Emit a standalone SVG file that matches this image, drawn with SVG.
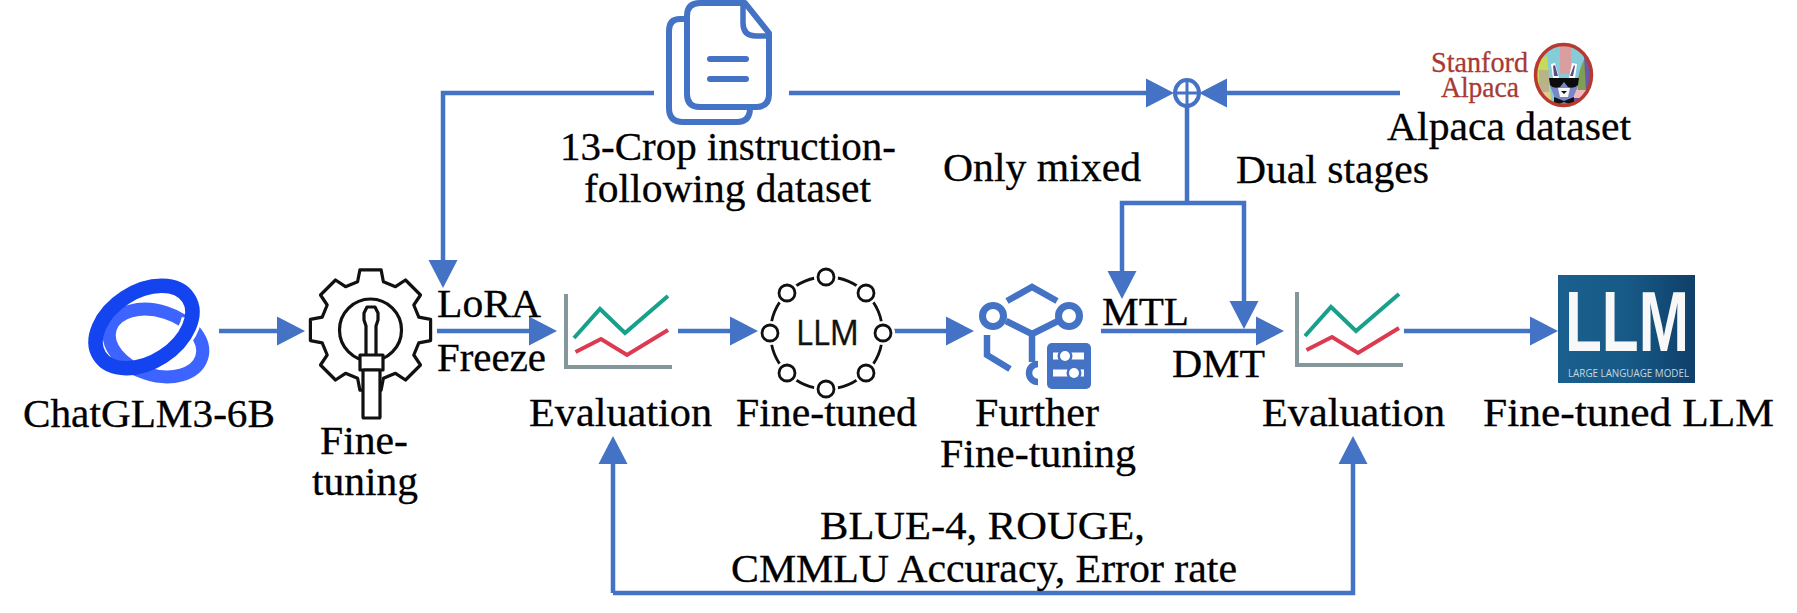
<svg xmlns="http://www.w3.org/2000/svg" width="1797" height="613" viewBox="0 0 1797 613">
<style>
.t{font-family:"Liberation Serif","Times New Roman",serif;font-size:40px;fill:#000;stroke:#000;stroke-width:.3}
.c{fill:none;stroke:#4472c4;stroke-width:4.5}
.a{marker-end:url(#ah)}
.ic{fill:none;stroke:#4472c4;stroke-linecap:round;stroke-linejoin:round}
.b{fill:none;stroke:#4472c4;stroke-width:6.500;stroke-linejoin:miter}
.k{fill:none;stroke:#111;stroke-width:3.2;stroke-linejoin:round}
.w{fill:#fff;stroke:#111;stroke-width:3.2;stroke-linejoin:round}
.n{fill:#fff;stroke:#111;stroke-width:2.8}
.ax{fill:none;stroke:#84979a;stroke-width:4}
.gr{fill:none;stroke:#17a08a;stroke-width:4}
.rd{fill:none;stroke:#dc3a50;stroke-width:4}
.s{font-family:"Liberation Serif",serif;font-size:29px;fill:#a83a34;stroke:#a83a34;stroke-width:.3}
</style>
<defs>
<marker id="ah" markerUnits="userSpaceOnUse" markerWidth="28" markerHeight="29" refX="0" refY="14.5" orient="auto" viewBox="0 0 28 29" overflow="visible"><path d="M0,0L28,14.500L0,29Z" fill="#4472c4"/></marker>
<linearGradient id="lg" x1="0" x2="1" y1="0" y2="0"><stop offset="0" stop-color="#1a5f8e"/><stop offset="0.5" stop-color="#175a87"/><stop offset="1" stop-color="#0f3f69"/></linearGradient>
<clipPath id="ac"><ellipse cx="1563.500" cy="75" rx="28" ry="30.500"/></clipPath>
<g id="chart"><path class="ax" d="M0,0V73H106"/><path class="gr" d="M8,44L34,15L59,39L102,2"/><path class="rd" d="M9.500,58L35,45L61,61L102,36"/></g>
</defs>
<g id="connectors">
<path class="c a" d="M219,331H277"/>
<path class="c a" d="M437,331H529"/>
<path class="c a" d="M678,331H730"/>
<path class="c a" d="M887,331H946"/>
<path class="c a" d="M1101,331H1256"/>
<path class="c a" d="M1404,331H1530"/>
<path class="c a" d="M654,93H443V260"/>
<path class="c a" d="M789,93H1146"/>
<path class="c a" d="M1400,93H1227"/>
<path class="c" d="M1187,107V203"/>
<path class="c a" d="M1187,203H1122V271"/>
<path class="c a" d="M1187,203H1244V301"/>
<path class="c a" d="M613,593V464"/>
<path class="c a" d="M613,593H1353V464"/>
<ellipse cx="1187" cy="93" rx="12" ry="13" fill="#fff" stroke="#4472c4" stroke-width="4"/>
<path d="M1175,93H1199M1187,80V106" fill="none" stroke="#4472c4" stroke-width="3"/>
</g>
<g id="chatglm">
<ellipse cx="156" cy="343" rx="48" ry="32" transform="rotate(18 156 343)" fill="none" stroke="#3d64ff" stroke-width="13"/>
<ellipse cx="144" cy="327" rx="53" ry="35" transform="rotate(-33 144 327)" fill="none" stroke="#fff" stroke-width="20" pathLength="360" stroke-dasharray="0 28 36 296"/>
<ellipse cx="144" cy="327" rx="53" ry="35" transform="rotate(-33 144 327)" fill="none" stroke="#1443f0" stroke-width="14.500"/>
<text class="t" x="23" y="427" textLength="252" lengthAdjust="spacingAndGlyphs">ChatGLM3-6B</text>
</g>
<g id="fine-tuning">
<path class="k" transform="translate(370.500,330)" d="M-12.900,-48.300L-10.600,-60.100L10.600,-60.100L12.900,-48.300L25,-43.300L35,-50L50,-35L43.300,-25L48.300,-12.900L60.100,-10.600L60.100,10.600L48.300,12.900L43.300,25L50,35L35,50L25,43.300L12.900,48.300L10.600,60.100L-10.600,60.100L-12.900,48.300L-25,43.300L-35,50L-50,35L-43.300,25L-48.300,12.900L-60.100,10.600L-60.100,-10.600L-48.300,-12.900L-43.300,-25L-50,-35L-35,-50L-25,-43.300Z"/>
<circle class="k" cx="370.500" cy="330" r="31"/>
<path class="w" d="M366,355V326L364,320V313L367,307H375L378,313V320L376,326V355"/>
<rect class="w" x="360" y="355" width="23" height="15"/>
<rect class="w" x="363" y="370" width="17" height="48" rx="1"/>
<text class="t" x="320" y="454" textLength="88" lengthAdjust="spacingAndGlyphs">Fine-</text>
<text class="t" x="312" y="495" textLength="106" lengthAdjust="spacingAndGlyphs">tuning</text>
</g>
<g id="edge-labels">
<text class="t" x="437" y="317" textLength="104" lengthAdjust="spacingAndGlyphs">LoRA</text>
<text class="t" x="437" y="371" textLength="109" lengthAdjust="spacingAndGlyphs">Freeze</text>
<text class="t" x="1102" y="325" textLength="87" lengthAdjust="spacingAndGlyphs">MTL</text>
<text class="t" x="1172" y="377" textLength="93" lengthAdjust="spacingAndGlyphs">DMT</text>
<text class="t" x="943" y="181" textLength="198" lengthAdjust="spacingAndGlyphs">Only mixed</text>
<text class="t" x="1236" y="183" textLength="193" lengthAdjust="spacingAndGlyphs">Dual stages</text>
<text class="t" x="820" y="539" textLength="325" lengthAdjust="spacingAndGlyphs">BLUE-4, ROUGE,</text>
<text class="t" x="731" y="582" textLength="506" lengthAdjust="spacingAndGlyphs">CMMLU Accuracy, Error rate</text>
</g>
<g id="evaluation-1">
<use href="#chart" x="566" y="294"/>
<text class="t" x="529" y="426" textLength="183" lengthAdjust="spacingAndGlyphs">Evaluation</text>
</g>
<g id="fine-tuned">
<circle cx="826.500" cy="333" r="56" fill="none" stroke="#111" stroke-width="2.800"/>
<g fill="#fff">
<circle cx="826" cy="277" r="12"/><circle cx="770" cy="333" r="12"/><circle cx="883" cy="333" r="12"/><circle cx="826" cy="389" r="12"/>
<circle cx="787" cy="293" r="12"/><circle cx="866" cy="293" r="12"/><circle cx="787" cy="373" r="12"/><circle cx="866" cy="373" r="12"/>
</g>
<circle class="n" cx="826" cy="277" r="8"/><circle class="n" cx="770" cy="333" r="8"/><circle class="n" cx="883" cy="333" r="8"/><circle class="n" cx="826" cy="389" r="8"/>
<circle class="n" cx="787" cy="293" r="8"/><circle class="n" cx="866" cy="293" r="8"/><circle class="n" cx="787" cy="373" r="8"/><circle class="n" cx="866" cy="373" r="8"/>
<text x="796" y="345" font-family="Open Sans, Liberation Sans, sans-serif" font-size="34" fill="#111" stroke="#111" stroke-width=".4" textLength="63" lengthAdjust="spacingAndGlyphs">LLM</text>
<text class="t" x="736" y="426" textLength="181" lengthAdjust="spacingAndGlyphs">Fine-tuned</text>
</g>
<g id="further-fine-tuning">
<circle class="ic" cx="993" cy="316" r="10.500" stroke-width="7"/>
<circle class="ic" cx="1069" cy="316" r="10.500" stroke-width="7"/>
<path class="b" d="M1006,321L1032,334L1058,321M1032,334V362M1007,301L1032,287L1057,301M987,335V355L1010,369"/>
<path class="b" d="M1038,364A9,9 0 1 0 1038,382"/>
<rect x="1047" y="343" width="44" height="46" rx="5" fill="#4472c4"/>
<path d="M1053,356H1084M1053,373H1084" stroke="#fff" stroke-width="7" fill="none"/>
<circle cx="1065" cy="356" r="7.500" fill="#4472c4"/><circle cx="1074" cy="373" r="7.500" fill="#4472c4"/>
<circle cx="1065" cy="356" r="5" fill="#fff"/><circle cx="1074" cy="373" r="5" fill="#fff"/>
<text class="t" x="975" y="426" textLength="124" lengthAdjust="spacingAndGlyphs">Further</text>
<text class="t" x="940" y="467" textLength="196" lengthAdjust="spacingAndGlyphs">Fine-tuning</text>
</g>
<g id="evaluation-2">
<use href="#chart" x="1297" y="292"/>
<text class="t" x="1262" y="426" textLength="183" lengthAdjust="spacingAndGlyphs">Evaluation</text>
</g>
<g id="fine-tuned-llm">
<rect x="1558" y="275" width="137" height="108" fill="url(#lg)"/>
<text x="1565" y="351" font-family="Liberation Sans, Arial, sans-serif" font-weight="bold" font-size="85" fill="#f7f8f7" textLength="124" lengthAdjust="spacingAndGlyphs">LLM</text>
<text x="1568" y="377" font-family="Open Sans, Liberation Sans, sans-serif" font-size="11.500" fill="#c5d8df" textLength="121" lengthAdjust="spacingAndGlyphs">LARGE LANGUAGE MODEL</text>
<text class="t" x="1483" y="426" textLength="291" lengthAdjust="spacingAndGlyphs">Fine-tuned LLM</text>
</g>
<g id="instruction-dataset">
<path class="ic" stroke-width="6" d="M685,19H680Q669,19 669,31V108Q669,122 683,122H737Q750,122 750,108"/>
<path class="ic" stroke-width="6" style="fill:#fff" d="M745,3H700Q687,3 687,16V94Q687,107 700,107H756Q769,107 769,94V33Z"/>
<path class="ic" stroke-width="5.500" d="M743,5V23Q743,36 756,36H769"/>
<path class="ic" stroke-width="6" d="M710,59H746M710,79H746"/>
<text class="t" x="560" y="160" textLength="336" lengthAdjust="spacingAndGlyphs">13-Crop instruction-</text>
<text class="t" x="584" y="202" textLength="287" lengthAdjust="spacingAndGlyphs">following dataset</text>
</g>
<g id="alpaca-dataset">
<text class="s" x="1431" y="72" textLength="97" lengthAdjust="spacingAndGlyphs">Stanford</text>
<text class="s" x="1441" y="97" textLength="78" lengthAdjust="spacingAndGlyphs">Alpaca</text>
<g clip-path="url(#ac)">
<rect x="1534" y="42" width="60" height="66" fill="#86cbd8"/>
<rect x="1560" y="46" width="11" height="28" fill="#d99ea0"/>
<path d="M1535,60L1547,56L1552,108H1535Z" fill="#c6d95c"/>
<path d="M1578,78Q1582,60 1587,56L1593,84V92H1578Z" fill="#7f9f55"/>
<path d="M1584,56L1593,60V90H1586Z" fill="#6c58a8"/>
<rect x="1539" y="70" width="10" height="22" fill="#b9b38a"/>
<rect x="1570" y="90" width="22" height="8" fill="#f2b8bc"/>
<rect x="1536" y="92" width="14" height="14" fill="#e6c79a"/>
<rect x="1572" y="98" width="20" height="10" fill="#6a4fa0"/>
<path d="M1551,64L1555,63L1559,78H1553Z" fill="#fff"/>
<path d="M1569,78L1572,63L1577,64L1575,78Z" fill="#fff"/>
<path d="M1553,66L1555,65L1558,76H1554ZM1574,65L1575,66L1573,76H1570Z" fill="#5c4b8c"/>
<path d="M1552,78H1576L1578,86L1573,98L1576,108H1551L1555,98L1550,86Z" fill="#7b86c8"/>
<path d="M1558,88H1570L1568,97H1560Z" fill="#f7f7f7"/>
<path d="M1549,78H1579L1578,85Q1574,89 1568,87L1564,82L1560,87Q1553,89 1550,85Z" fill="#0c0c0c"/>
<path d="M1561,91H1567L1564,94Z" fill="#111"/>
<path d="M1554,97L1564,101L1574,97V106L1564,102L1554,106Z" fill="#111"/>
</g>
<ellipse cx="1563.500" cy="75" rx="28" ry="30.500" fill="none" stroke="#b8392f" stroke-width="3.500"/>
<text class="t" x="1387" y="140" textLength="244" lengthAdjust="spacingAndGlyphs">Alpaca dataset</text>
</g>
</svg>
